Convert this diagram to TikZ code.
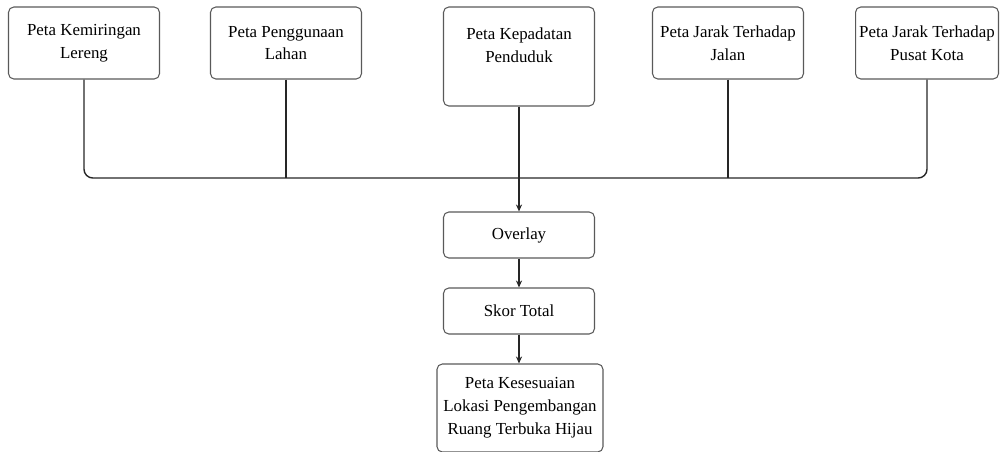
\documentclass[tikz,border=0pt]{standalone}
\usepackage{fontspec}
\setmainfont{Liberation Serif}
\usetikzlibrary{arrows.meta}
\tikzset{
  kotak/.style={draw=black!65, line width=0.6pt, rounded corners=3pt, align=center,
    minimum width=3.02cm, minimum height=1.44cm, inner sep=2pt,
    font=\fontsize{9.6}{13}\selectfont},
  garis/.style={draw=black!85, line width=0.8pt},
  panah/.style={garis, -{Stealth[length=4pt,width=3.5pt]}}
}
\begin{document}
\begin{tikzpicture}[x=0.02cm,y=-0.02cm]
\useasboundingbox (0,0) rectangle (1000,452);
\pgfmathsetmacro{\atas}{43}
\pgfmathsetmacro{\bus}{178}
  \node[kotak] (lereng) at (84,\atas) {Peta Kemiringan\\Lereng};
  \node[kotak] (lahan) at (286,\atas) {Peta Penggunaan\\Lahan};
  \node[kotak, minimum height=1.98cm] (penduduk) at (519,56.5) {Peta Kepadatan\\Penduduk\\\mbox{}};
  \node[kotak] (jalan) at (728,\atas) {Peta Jarak Terhadap\\Jalan};
  \node[kotak, minimum width=2.86cm] (kota) at (927,\atas) {Peta Jarak Terhadap\\Pusat Kota};
  % alur ke bawah
  \node[kotak, minimum height=0.92cm] (overlay) at (519,235) {Overlay};
  \node[kotak, minimum height=0.92cm] (skor) at (519,311) {Skor Total};
  \node[kotak, minimum width=3.32cm, minimum height=1.76cm] (hasil) at (520,408) {Peta Kesesuaian\\Lokasi Pengembangan\\Ruang Terbuka Hijau};
  \coordinate (b) at (519,\bus);
  \draw[garis, rounded corners=5pt] (lereng.south) -- (lereng.south |- b) -- (kota.south |- b) -- (kota.south);
  \draw[garis] (lahan.south) -- (lahan.south |- b);
  \draw[garis] (jalan.south) -- (jalan.south |- b);
  \draw[panah] (penduduk.south) -- (overlay.north);
  \draw[panah] (overlay.south) -- (skor.north);
  \draw[panah] (skor.south) -- (skor.south |- hasil.north);
\end{tikzpicture}
\end{document}
